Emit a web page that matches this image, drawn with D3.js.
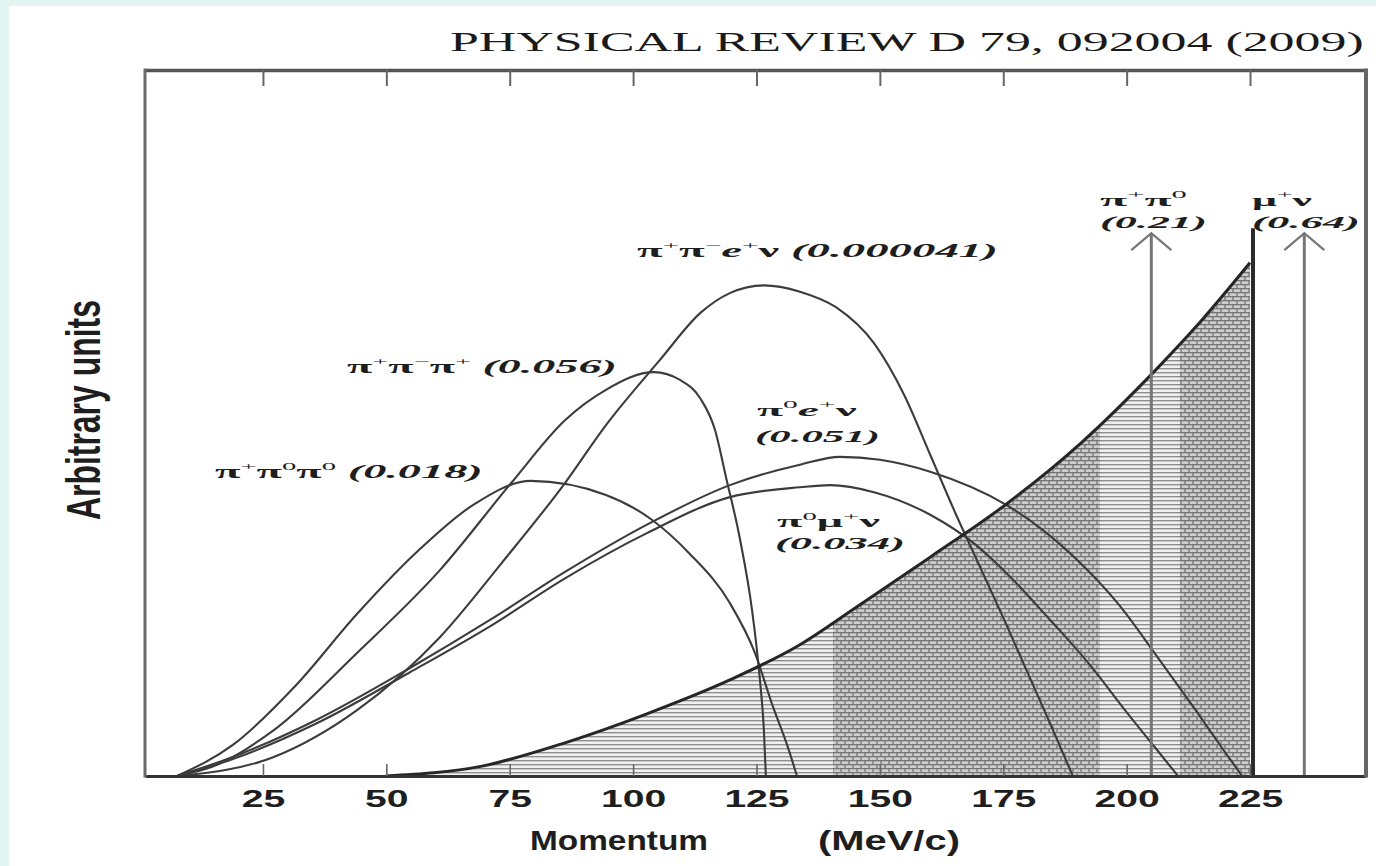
<!DOCTYPE html>
<html><head><meta charset="utf-8">
<script src="https://cdn.jsdelivr.net/npm/d3@7"></script>
<style>html,body{margin:0;padding:0;background:#e2f5f1;} svg{display:block}</style>
</head><body>
<svg id="chart" width="1376" height="866"></svg>
<script>
// ---------------- data (momentum in MeV/c, height in arbitrary units) ----------------
const tickValues = [25, 50, 75, 100, 125, 150, 175, 200, 225];

const k3pi0P = [7.6, 18.9, 31.5, 44.0, 56.6, 67.6, 79.3, 94.5, 103.8, 111.3, 119.6, 124.7, 128.1, 131.2, 133.2];
const k3pi0V = [0, 4.4, 12.7, 22.9, 32.0, 38.4, 41.8, 39.8, 36.3, 31.6, 24.5, 17.4, 10.3, 4.4, 0];

const k3piP = [7.6, 14.7, 27.2, 44.0, 60.9, 75.3, 86.2, 94.5, 104.2, 109.5, 113.6, 116.6, 118.8, 121.7, 124.1, 125.7, 126.5, 126.9];
const k3piV = [0, 1.3, 6.5, 17.4, 29.2, 41.5, 50.4, 54.7, 57.2, 56.1, 53.5, 49.0, 42.4, 33.4, 23.5, 13.6, 6.5, 0];

const ke4P = [7.6, 27.2, 44.0, 60.9, 73.4, 86.2, 94.5, 105.4, 113.8, 119.6, 126.5, 133.8, 141.1, 148.8, 154.9, 160.2, 165.2, 170.3, 175.4, 180.4, 184.9, 189.1];
const ke4V = [0, 2.7, 9.3, 19.7, 30.2, 41.5, 49.7, 58.9, 65.7, 68.4, 69.5, 68.6, 66.4, 61.3, 54.0, 45.5, 37.4, 29.6, 21.8, 13.9, 6.8, 0];

const ke3P = [7.6, 18.9, 35.7, 54.8, 71.0, 86.2, 102.8, 119.6, 133.8, 141.9, 150.0, 160.2, 175.6, 183.1, 189.5, 198.5, 206.0, 213.7, 219.3, 223.4];
const ke3V = [0, 2.7, 7.9, 15.3, 22.1, 28.9, 35.6, 41.2, 44.1, 45.2, 44.8, 43.1, 38.4, 34.8, 30.9, 24.2, 17.1, 9.6, 4.0, 0];

const kmu3P = [7.6, 18.9, 35.7, 54.8, 71.0, 86.2, 102.8, 119.6, 133.8, 139.9, 148.8, 160.2, 169.5, 177.0, 184.5, 192.6, 199.7, 205.8, 210.4];
const kmu3V = [0, 2.4, 7.4, 14.7, 21.2, 28.0, 34.4, 39.5, 40.9, 41.2, 40.2, 37.0, 32.7, 27.8, 22.1, 15.7, 9.3, 4.0, 0];

const hatchP = [49.9, 69.4, 86.2, 102.8, 119.6, 133.8, 145.0, 160.2, 175.6, 190.8, 206.0, 214.9, 225.0];
const hatchV = [0, 1.4, 4.7, 8.8, 13.6, 18.6, 23.8, 31.0, 38.5, 47.2, 57.6, 64.3, 72.7];
const edgeP = [225.6];
const edgeTop = [77.6];

const bandStarts = [49.9, 140.5, 194.6, 210.8];
const bandEnds = [140.5, 194.6, 210.8, 225.6];
const bandKinds = ["lines", "bricks", "lines", "bricks"];

const arrowP = [205, 236];
const arrowTop = [76.9, 76.9];

// ---------------- text ----------------
const titleText = "PHYSICAL REVIEW D 79, 092004 (2009)";
const xTitleParts = ["Momentum", "(MeV/c)"];
const yTitle = "Arbitrary units";

const labelK3pi0 = [["π","+"],["π","0"],["π","0"]]; const fracK3pi0 = "(0.018)";
const labelK3pi  = [["π","+"],["π","−"],["π","+"]]; const fracK3pi = "(0.056)";
const labelKe4   = [["π","+"],["π","−"],["e","+"],["ν",""]]; const fracKe4 = "(0.000041)";
const labelKe3   = [["π","0"],["e","+"],["ν",""]]; const fracKe3 = "(0.051)";
const labelKmu3  = [["π","0"],["μ","+"],["ν",""]]; const fracKmu3 = "(0.034)";
const labelK2pi  = [["π","+"],["π","0"]]; const fracK2pi = "(0.21)";
const labelKmu2  = [["μ","+"],["ν",""]]; const fracKmu2 = "(0.64)";

// ---------------- drawing ----------------
const svg = d3.select("#chart");
const W = 1376, H = 866;
const L = 145, R = 1366, T = 70, B = 776;

svg.append("rect").attr("x", 0).attr("y", 0).attr("width", W).attr("height", H).attr("fill", "#e2f5f1");
svg.append("rect").attr("x", 9).attr("y", 6).attr("width", W - 9).attr("height", H - 6).attr("fill", "#ffffff");

const x = d3.scaleLinear().domain([1.1, 248.5]).range([L, R]);
const y = d3.scaleLinear().domain([0, 100]).range([B, T]);

const defs = svg.append("defs");
const pl = defs.append("pattern").attr("id", "hLines").attr("patternUnits", "userSpaceOnUse")
  .attr("width", 10).attr("height", 4);
pl.append("rect").attr("width", 10).attr("height", 4).attr("fill", "#f0f0f0");
pl.append("line").attr("x1", 0).attr("x2", 10).attr("y1", 0.7).attr("y2", 0.7)
  .attr("stroke", "#888").attr("stroke-width", 1.3);

const pb = defs.append("pattern").attr("id", "bricks").attr("patternUnits", "userSpaceOnUse")
  .attr("width", 8).attr("height", 8);
pb.append("rect").attr("width", 8).attr("height", 8).attr("fill", "#cdcdcd");
pb.append("path").attr("d", "M0,0.7H8M0,4.7H8M1,0.7V4.7M5,4.7V8.7")
  .attr("stroke", "#747474").attr("stroke-width", 1.3).attr("fill", "none");

const zip = (P, V) => P.map((p, i) => [p, V[i]]);

// hatched distribution
const hatchPts = zip(hatchP, hatchV);
const area = d3.area().x(d => x(d[0])).y0(y(0)).y1(d => y(d[1])).curve(d3.curveMonotoneX);
defs.append("clipPath").attr("id", "hatchClip").append("path").attr("d", area(hatchPts));
const hg = svg.append("g").attr("clip-path", "url(#hatchClip)");
bandStarts.forEach((s, i) => {
  hg.append("rect").attr("x", x(s)).attr("y", T).attr("width", x(bandEnds[i]) - x(s)).attr("height", B - T)
    .attr("fill", bandKinds[i] === "lines" ? "url(#hLines)" : "url(#bricks)");
});

// decay spectra
const line = d3.line().x(d => x(d[0])).y(d => y(d[1])).curve(d3.curveMonotoneX);
const spectra = [zip(k3pi0P, k3pi0V), zip(k3piP, k3piV), zip(ke4P, ke4V), zip(ke3P, ke3V), zip(kmu3P, kmu3V)];
svg.append("g").selectAll("path").data(spectra).join("path")
  .attr("d", line).attr("fill", "none").attr("stroke", "#3c3c3c").attr("stroke-width", 2.1);

svg.append("path").attr("d", line(hatchPts)).attr("fill", "none").attr("stroke", "#262626").attr("stroke-width", 3);

// end edge of the hatched distribution
svg.append("line").attr("x1", x(edgeP[0])).attr("x2", x(edgeP[0])).attr("y1", y(0)).attr("y2", y(edgeTop[0]))
  .attr("stroke", "#2a2a2a").attr("stroke-width", 4);

// monochromatic arrows
arrowP.forEach((p, i) => {
  const ax = x(p), ty = y(arrowTop[i]);
  svg.append("line").attr("x1", ax).attr("x2", ax).attr("y1", y(0)).attr("y2", ty)
    .attr("stroke", "#767676").attr("stroke-width", 3);
  svg.append("path").attr("d", `M${ax - 20},${ty + 17}L${ax},${ty}L${ax + 20},${ty + 17}`)
    .attr("fill", "none").attr("stroke", "#767676").attr("stroke-width", 2.2);
});

// axes and frame
const gB = svg.append("g").attr("transform", `translate(0,${B})`)
  .call(d3.axisBottom(x).tickValues(tickValues).tickSize(-12).tickSizeOuter(0).tickPadding(15));
gB.select(".domain").attr("stroke", "#333").attr("stroke-width", 3);
gB.selectAll(".tick line").attr("stroke", "#666").attr("stroke-width", 1.6);
gB.selectAll(".tick text").attr("font-family", "'Liberation Sans', Arial, sans-serif").attr("font-weight", "bold")
  .attr("font-size", 23).attr("fill", "#1e1e1e").attr("transform", "scale(1.7,1)");

const gT = svg.append("g").attr("transform", `translate(0,${T})`)
  .call(d3.axisTop(x).tickValues(tickValues).tickSize(-16).tickSizeOuter(0).tickFormat(""));
gT.select(".domain").attr("stroke", "#555").attr("stroke-width", 3.5);
gT.selectAll(".tick line").attr("stroke", "#666").attr("stroke-width", 2);

svg.append("line").attr("x1", L).attr("x2", L).attr("y1", T - 1.5).attr("y2", B + 1.5).attr("stroke", "#6a6a6a").attr("stroke-width", 3);
svg.append("line").attr("x1", R).attr("x2", R).attr("y1", T - 1.5).attr("y2", B + 1.5).attr("stroke", "#666").attr("stroke-width", 4);

// helpers for stretched text
function fitText(sel, x0, base, width) {
  const bb = sel.node().getBBox();
  const k = width / bb.width;
  sel.attr("transform", `translate(${x0 - bb.x * k},${base}) scale(${k},1)`);
}
const serif = "'Liberation Serif','Times New Roman',serif";
const sans = "'Liberation Sans', Arial, sans-serif";

function drawLabel(segs, frac, x0, base, width, fs) {
  const t = svg.append("text").attr("x", 0).attr("y", 0).attr("font-family", serif)
    .attr("font-weight", "bold").attr("font-size", fs).attr("fill", "#1e1e1e");
  const sh = fs * 0.45;
  let raised = false;
  if (segs) segs.forEach(([b, s]) => {
    t.append("tspan").attr("dy", raised ? sh : 0).attr("font-style", b === "e" ? "italic" : "normal").text(b);
    raised = false;
    if (s) { t.append("tspan").attr("dy", -sh).attr("font-size", fs * 0.62).attr("font-weight", "normal").text(s); raised = true; }
  });
  if (frac) t.append("tspan").attr("dy", raised ? sh : 0).attr("font-style", "italic").text((segs ? " " : "") + frac);
  fitText(t, x0, base, width);
}

drawLabel(labelKe4, fracKe4, 637, 257, 361, 18);
drawLabel(labelK3pi, fracK3pi, 347, 373, 270, 18);
drawLabel(labelK3pi0, fracK3pi0, 215, 478, 268, 18);
drawLabel(labelKe3, null, 757, 416, 101, 17);
drawLabel(null, fracKe3, 755, 442, 125, 17);
drawLabel(labelKmu3, null, 777, 527, 103, 16);
drawLabel(null, fracKmu3, 775, 549, 130, 16);
drawLabel(labelK2pi, null, 1100, 206, 87, 17);
drawLabel(null, fracK2pi, 1100, 228, 107, 17);
drawLabel(labelKmu2, null, 1252, 206, 61, 17);
drawLabel(null, fracKmu2, 1252, 228, 108, 17);

// title
const tt = svg.append("text").attr("font-family", serif).attr("font-size", 28).attr("fill", "#1a1a1a").text(titleText);
fitText(tt, 450, 51, 914);

// x title
const xt1 = svg.append("text").attr("font-family", sans).attr("font-weight", "bold").attr("font-size", 28).attr("fill", "#1e1e1e").text(xTitleParts[0]);
fitText(xt1, 530, 850, 178);
const xt2 = svg.append("text").attr("font-family", sans).attr("font-weight", "bold").attr("font-size", 28).attr("fill", "#1e1e1e").text(xTitleParts[1]);
fitText(xt2, 818, 850, 142);

// y title
const yt = svg.append("text").attr("font-family", sans).attr("font-weight", "bold").attr("font-size", 20).attr("fill", "#1e1e1e").text(yTitle);
const ybb = yt.node().getBBox();
yt.attr("transform", `translate(100,520) scale(${35 / (0.716 * 20)},${220 / ybb.width}) rotate(-90)`);
</script>
</body></html>
